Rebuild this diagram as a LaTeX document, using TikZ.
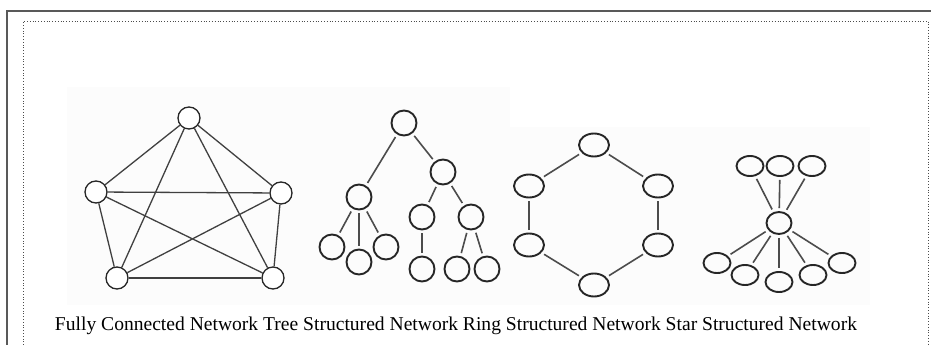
\documentclass[tikz,border=0pt]{standalone}
\usepackage{fontspec}
\setmainfont{Liberation Serif}
\usetikzlibrary{shapes.geometric}
\begin{document}
\begin{tikzpicture}[x=1pt,y=-1pt,
  fc/.style={circle,draw=black!85,line width=1.3pt,minimum size=22pt,inner sep=0pt,fill=white},
  tn/.style={circle,draw=black!85,line width=1.9pt,minimum size=25pt,inner sep=0pt},
  rn/.style={ellipse,draw=black!85,line width=1.9pt,minimum width=30pt,minimum height=23pt,inner sep=0pt},
  st/.style={ellipse,draw=black!85,line width=1.9pt,minimum width=27pt,minimum height=20pt,inner sep=0pt},
  sc/.style={ellipse,draw=black!85,line width=1.9pt,minimum width=25pt,minimum height=22pt,inner sep=0pt},
  fcl/.style={draw=black!75,line width=1.3pt},
  gl/.style={draw=black!70,line width=1.6pt,shorten >=3pt,shorten <=3pt}]
\useasboundingbox (0,0) rectangle (931,345);
\fill[white] (0,0) rectangle (931,345);
% faint backgrounds
\fill[black!1] (67,87) rectangle (510,305);
\fill[black!1] (510,127) rectangle (870,305);
% frames
\draw[black!65,line width=1.2pt] (7,345) -- (7,11) -- (931,11);
\draw[black!70,line width=0.8pt,dotted] (23.5,345) -- (23.5,21) -- (928,21) -- (928,345);
% fully connected
\node[fc] (a) at (189,118) {};
\node[fc] (b) at (96,192) {};
\node[fc] (c) at (281,193) {};
\node[fc] (d) at (117,278) {};
\node[fc] (e) at (273,278) {};
\foreach \u/\v in {a/b,a/c,a/d,a/e,b/c,b/d,b/e,c/d,c/e,d/e}
  \draw[fcl] (\u) -- (\v);
% tree
\node[tn] (t0) at (404,123) {};
\node[tn] (tl) at (359,197) {};
\node[tn] (tr) at (443,172) {};
\node[tn] (tl1) at (332,247) {};
\node[tn] (tl2) at (359,262) {};
\node[tn] (tl3) at (386,247) {};
\node[tn] (trl) at (422,217) {};
\node[tn] (trr) at (471,217) {};
\node[tn] (trl1) at (422,269) {};
\node[tn] (trr1) at (457,269) {};
\node[tn] (trr2) at (487,269) {};
\foreach \u/\v in {t0/tl,t0/tr,tl/tl1,tl/tl2,tl/tl3,tr/trl,tr/trr,trl/trl1,trr/trr1,trr/trr2}
  \draw[gl] (\u) -- (\v);
% ring
\node[rn] (r1) at (594,145) {};
\node[rn] (r2) at (658,186) {};
\node[rn] (r3) at (658,245) {};
\node[rn] (r4) at (594,285) {};
\node[rn] (r5) at (529,245) {};
\node[rn] (r6) at (529,186) {};
\foreach \u/\v in {r1/r2,r2/r3,r3/r4,r4/r5,r5/r6,r6/r1}
  \draw[gl] (\u) -- (\v);
% star
\node[sc] (s0) at (779,223) {};
\node[st] (s1) at (750,166) {};
\node[st] (s2) at (780,166) {};
\node[st] (s3) at (812,166) {};
\node[st] (s4) at (717,263) {};
\node[st] (s5) at (745,275) {};
\node[st] (s6) at (779,282) {};
\node[st] (s7) at (813,275) {};
\node[st] (s8) at (842,263) {};
\foreach \v in {s1,s2,s3,s4,s5,s6,s7,s8}
  \draw[gl] (s0) -- (\v);
% caption
\node[anchor=base,inner sep=0pt] (cap) at (456,330) {\resizebox{802pt}{!}{Fully Connected Network Tree Structured Network Ring Structured Network Star Structured Network}};
\end{tikzpicture}
\end{document}
